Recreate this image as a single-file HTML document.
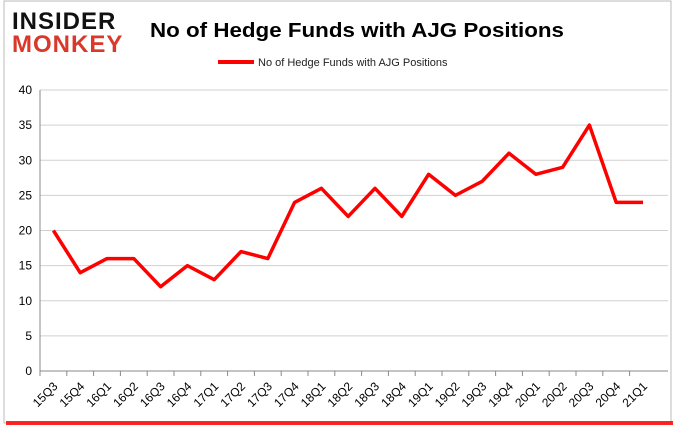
<!DOCTYPE html>
<html><head><meta charset="utf-8"><style>
body{margin:0;background:#fff;font-family:"Liberation Sans",sans-serif}
#wrap{position:relative;width:678px;height:431px;overflow:hidden}
</style></head><body>
<div id="wrap">
<svg id="chart" width="678" height="431">
<rect x="4" y="1" width="667" height="422" fill="#fff" stroke="#bbb"/>
<rect x="6" y="421" width="667" height="4" fill="#f00" opacity="0.85"/>
<text x="12" y="29" font-size="24" font-weight="bold" fill="#111" font-family="Liberation Sans" letter-spacing="1">INSIDER</text>
<text x="12" y="52" font-size="24" font-weight="bold" fill="#d9382a" font-family="Liberation Sans" letter-spacing="1">MONKEY</text>
<text x="357" y="37" font-size="20" font-weight="bold" text-anchor="middle" fill="#000" textLength="414" lengthAdjust="spacingAndGlyphs">No of Hedge Funds with AJG Positions</text>
<line x1="218" y1="62" x2="254" y2="62" stroke="#f00" stroke-width="4"/>
<text x="258" y="66" font-size="11" fill="#222">No of Hedge Funds with AJG Positions</text>
<g id="grid"></g><g id="axes"></g><g id="series"></g>
</svg>
</div>
<script>
const categories=["15Q3","15Q4","16Q1","16Q2","16Q3","16Q4","17Q1","17Q2","17Q3","17Q4","18Q1","18Q2","18Q3","18Q4","19Q1","19Q2","19Q3","19Q4","20Q1","20Q2","20Q3","20Q4","21Q1"];
const values=[20,14,16,16,12,15,13,17,16,24,26,22,26,22,28,25,27,31,28,29,35,24,24];
const yTicks=[0,5,10,15,20,25,30,35,40];
const NS="http://www.w3.org/2000/svg";
const x0=40,step=26.8,xEnd=668,yTop=90,yBot=371,yMax=40;
const xPos=i=>x0+step/2+i*step;
const yPos=v=>yBot-(v/yMax)*(yBot-yTop);
function mk(t,a,p){const e=document.createElementNS(NS,t);for(const k in a)e.setAttribute(k,a[k]);p.appendChild(e);return e;}
const grid=document.getElementById('grid'),axes=document.getElementById('axes'),series=document.getElementById('series');
yTicks.forEach(v=>{
 const l=mk('line',{x1:x0,x2:xEnd,y1:yPos(v),y2:yPos(v),stroke:v===0?'#888':'#d0d0d0'},grid);
 
 
 const t=mk('text',{x:x0-8,y:yPos(v)+4,'font-size':12,'text-anchor':'end',fill:'#000'},axes);
 t.textContent=v;
 
 
});
const ya=mk('line',{x1:x0,x2:x0,y1:yTop,y2:yBot,stroke:'#888'},axes);


categories.forEach((c,i)=>{
 const tk=mk('line',{x1:x0+i*step,x2:x0+i*step,y1:yBot,y2:yBot+5,stroke:'#888'},axes);
 
 
 const cx=xPos(i)+5,cy=yBot+16;
 const t=mk('text',{x:cx,y:cy,'font-size':12,'text-anchor':'end',fill:'#000',transform:`rotate(-45 ${cx} ${cy})`},axes);
 t.textContent=c;
 
 
});
const pts=values.map((v,i)=>xPos(i)+','+yPos(v)).join(' ');
const pl=mk('polyline',{points:pts,fill:'none',stroke:'#f00','stroke-width':3.5,'stroke-linejoin':'round'},series);


</script>
</body></html>
